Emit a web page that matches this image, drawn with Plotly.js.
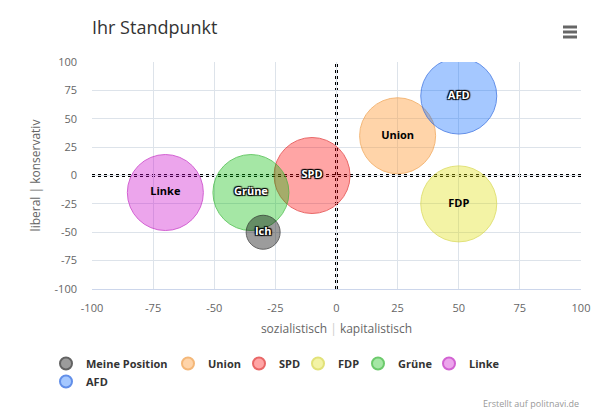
<!DOCTYPE html>
<html>
<head>
<meta charset="utf-8">
<script src="https://cdn.plot.ly/plotly-3.0.1.min.js"></script>
<style>html,body{margin:0;padding:0;background:#fff}#chart{width:600px;height:420px}</style>
</head>
<body>
<div id="chart"></div>
<script>
// Data
var seriesNames = ["Meine Position", "Union", "SPD", "FDP", "Grüne", "Linke", "AFD"];
var pointLabels = ["Ich", "Union", "SPD", "FDP", "Grüne", "Linke", "AFD"];
var xValues = [-30, 25, -10, 50, -35, -70, 50];
var yValues = [-50, 35, 0, -25, -15, -15, 70];
var zValues = [1, 5, 5, 5, 5, 5, 5];
var tickValues = [-100, -75, -50, -25, 0, 25, 50, 75, 100];
var tickLabels = ["-100", "-75", "-50", "-25", "0", "25", "50", "75", "100"];

// Styles / layout of legend entries (pixel positions of symbol centres)
var fillColors = ["rgba(0,0,0,0.55)", "rgba(255,153,51,0.6)", "rgba(255,0,0,0.5)", "rgba(221,221,0,0.5)", "rgba(0,187,0,0.5)", "rgba(204,0,204,0.5)", "rgba(0,102,255,0.5)"];
var lineColors = ["#222222", "#f09a40", "#e02828", "#d6d640", "#2fb52f", "#c020c0", "#2060e0"];
var labelColors = ["#ffffff", "#000000", "#ffffff", "#000000", "#ffffff", "#000000", "#ffffff"];
var OUT = "1px 1px 1px #000, -1px -1px 1px #000, 1px -1px 1px #000, -1px 1px 1px #000";
var labelShadows = [OUT, "none", OUT, "none", OUT, "none", OUT];
var legendPosX = [66, 188, 259, 318, 378, 449, 66];
var legendPosY = [362, 362, 362, 362, 362, 362, 380];
var FONT = "'Open Sans', 'DejaVu Sans', sans-serif";
var maxDiameter = 76;
var zMax = Math.max.apply(null, zValues);

var legendFont = {family: FONT, size: 11, color: "#333333", weight: "bold"};

var layout = {
  width: 600,
  height: 420,
  margin: {l: 92, r: 19, t: 62, b: 131},
  paper_bgcolor: "#ffffff",
  plot_bgcolor: "#ffffff",
  font: {family: FONT, color: "#666666"},
  title: {
    text: "Ihr Standpunkt",
    x: 92 / 600, xanchor: "left", xref: "container",
    y: 1 - 28 / 420, yanchor: "middle", yref: "container",
    font: {family: FONT, size: 18, color: "#333333"}
  },
  showlegend: true,
  xaxis: {
    range: [-100, 100],
    tickvals: tickValues,
    ticktext: tickLabels,
    showgrid: true,
    gridcolor: "#dde3ea",
    zeroline: false,
    showline: true,
    linecolor: "#ccd6eb",
    ticks: "",
    ticklabelstandoff: 9,
    tickfont: {family: FONT, size: 11, color: "#666666"},
    fixedrange: true,
    title: {
      text: "sozialistisch <span style='color:#cccccc'>|</span> kapitalistisch",
      font: {family: FONT, size: 12, color: "#666666"},
      standoff: 10
    }
  },
  yaxis: {
    range: [-100, 100],
    tickvals: tickValues,
    ticktext: tickLabels,
    showgrid: true,
    gridcolor: "#dde3ea",
    zeroline: false,
    showline: false,
    ticks: "",
    ticklabelstandoff: 14,
    tickfont: {family: FONT, size: 11, color: "#666666"},
    fixedrange: true,
    title: {
      text: "liberal | konservativ",
      font: {family: FONT, size: 12, color: "#666666"},
      standoff: 11
    }
  },
  shapes: [
    {type: "line", xref: "x", yref: "paper", x0: 0, x1: 0, y0: 0, y1: 1, line: {color: "#000000", width: 3, dash: "3px,3px"}, layer: "below"},
    {type: "line", xref: "paper", yref: "y", x0: 0, x1: 1, y0: 0, y1: 0, line: {color: "#000000", width: 3, dash: "3px,3px"}, layer: "below"},
    {type: "line", xref: "paper", yref: "paper", x0: (563 - 92) / 489, x1: (577 - 92) / 489, y0: (289 - 27) / 227, y1: (289 - 27) / 227, line: {color: "#666666", width: 3}},
    {type: "line", xref: "paper", yref: "paper", x0: (563 - 92) / 489, x1: (577 - 92) / 489, y0: (289 - 32) / 227, y1: (289 - 32) / 227, line: {color: "#666666", width: 3}},
    {type: "line", xref: "paper", yref: "paper", x0: (563 - 92) / 489, x1: (577 - 92) / 489, y0: (289 - 37) / 227, y1: (289 - 37) / 227, line: {color: "#666666", width: 3}}
  ],
  annotations: [
    {
      text: "Erstellt auf politnavi.de",
      xref: "paper", yref: "paper",
      x: 1, y: (289 - 403) / 227,
      xanchor: "right", yanchor: "middle",
      showarrow: false,
      font: {family: FONT, size: 9, color: "#999999"}
    }
  ]
};

var traces = seriesNames.map(function (name, i) {
  var legId = i === 0 ? "legend" : "legend" + (i + 1);
  layout[legId] = {
    orientation: "h",
    xref: "container", yref: "container",
    x: (legendPosX[i] - 20) / 600,
    y: 1 - (legendPosY[i] - 13) / 420,
    xanchor: "left", yanchor: "top",
    itemsizing: "constant",
    font: legendFont,
    itemclick: false,
    bgcolor: "rgba(0,0,0,0)"
  };
  return {
    type: "scatter",
    mode: "markers+text",
    name: name,
    legend: legId,
    x: [xValues[i]],
    y: [yValues[i]],
    text: [pointLabels[i]],
    textposition: "middle center",
    textfont: {family: FONT, size: 11, weight: "bold", color: labelColors[i], shadow: labelShadows[i]},
    marker: {
      size: [zValues[i]],
      sizemode: "area",
      sizeref: 2 * zMax / (maxDiameter * maxDiameter),
      color: fillColors[i],
      line: {color: lineColors[i], width: 1}
    },
    hoverinfo: "none"
  };
});
// draw "Meine Position" on top of the party bubbles
traces.push(traces.shift());

Plotly.newPlot("chart", traces, layout, {displayModeBar: false, responsive: false});
</script>
</body>
</html>
